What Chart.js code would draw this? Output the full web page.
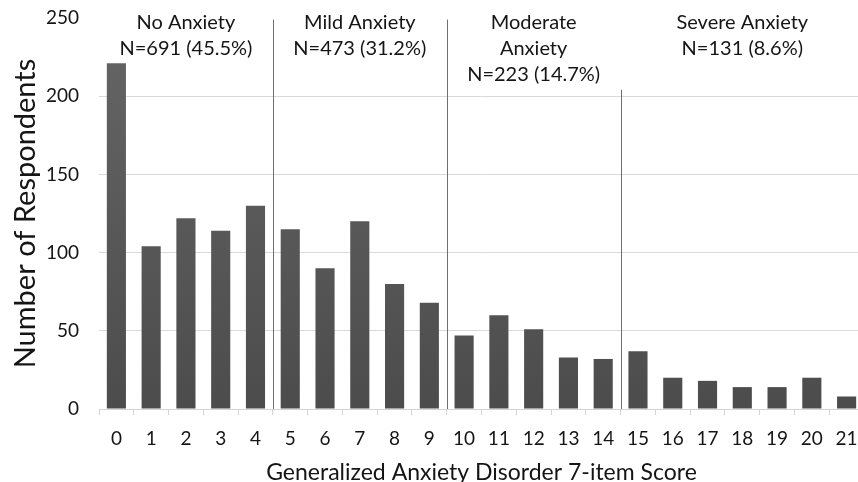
<!DOCTYPE html>
<html><head><meta charset="utf-8">
<script src="https://cdn.jsdelivr.net/npm/chart.js@4"></script>
<style>
html,body{margin:0;padding:0;overflow:hidden;background:#fff;width:858px;height:482px}
#wrap{width:880px;height:482px;position:relative}
</style></head>
<body><div id="wrap"><canvas id="c" width="880" height="482"></canvas></div>
<script>
const scores = ['0','1','2','3','4','5','6','7','8','9','10','11','12','13','14','15','16','17','18','19','20','21'];
const respondents = [221,104,122,114,130,115,90,120,80,68,47,60,51,33,32,37,20,18,14,14,20,8];
const yTicks = [0,50,100,150,200,250];
const groupLabels = [
  ['No Anxiety','N=691 (45.5%)'],
  ['Mild Anxiety','N=473 (31.2%)'],
  ['Moderate','Anxiety','N=223 (14.7%)'],
  ['Severe Anxiety','N=131 (8.6%)']
];
const groupStart = [0,5,10,15];
const groupEnd = [4,9,14,21];
const separatorAfter = [4,9,14];
const separatorTop = [249,249,204];

const FONT = 'Lato, "Open Sans", sans-serif';
const TXT = '#151515';

const groupsPlugin = {
  id:'groups',
  beforeDatasetsDraw(chart){
    const {ctx, scales:{x,y}} = chart;
    ctx.save();
    ctx.strokeStyle = '#6e6e6e';
    ctx.lineWidth = 1;
    separatorAfter.forEach((i,k)=>{
      const px = Math.round((x.getPixelForValue(i)+x.getPixelForValue(i+1))/2)+0.5;
      ctx.beginPath();
      ctx.moveTo(px, y.getPixelForValue(separatorTop[k]));
      ctx.lineTo(px, y.getPixelForValue(0));
      ctx.stroke();
    });
    ctx.restore();
  },
  afterDatasetsDraw(chart){
    const {ctx, chartArea, scales:{x}} = chart;
    ctx.save();
    ctx.fillStyle = TXT;
    ctx.font = '20px ' + FONT;
    ctx.textAlign = 'center';
    ctx.textBaseline = 'middle';
    groupLabels.forEach((lines,g)=>{
      const cx = (x.getPixelForValue(groupStart[g]) + x.getPixelForValue(groupEnd[g]))/2;
      lines.forEach((t,li)=>{
        ctx.fillText(t, cx, chartArea.top + 5 + li*26);
      });
    });
    ctx.restore();
  }
};

new Chart(document.getElementById('c'), {
  type:'bar',
  data:{
    labels:scores,
    datasets:[{
      data:respondents,
      backgroundColor(context){
        const c = context.chart; const a = c.chartArea;
        if(!a) return '#555';
        const g = c.ctx.createLinearGradient(0,a.top,0,a.bottom);
        g.addColorStop(0,'#666666');
        g.addColorStop(1,'#4c4c4c');
        return g;
      },
      borderWidth:0,
      barPercentage:0.55,
      categoryPercentage:1.0
    }]
  },
  options:{
    responsive:false,
    animation:false,
    devicePixelRatio:1,
    layout:{padding:{top:18,right:16,left:0,bottom:0}},
    plugins:{legend:{display:false},tooltip:{enabled:false}},
    scales:{
      x:{
        grid:{display:true,drawOnChartArea:false,drawTicks:true,tickLength:6,color:'#d4d4d4',offset:true},
        border:{display:true,color:'#d4d4d4'},
        ticks:{font:{family:FONT,size:19},color:TXT,padding:12,maxRotation:0,autoSkip:false},
        title:{display:true,text:'Generalized Anxiety Disorder 7-item Score',font:{family:FONT,size:23,lineHeight:0.8},color:TXT,padding:{top:0,bottom:0}},
        afterFit(s){ s.height = 73; }
      },
      y:{
        min:0,max:250,
        afterBuildTicks(s){ s.ticks = yTicks.map(v=>({value:v})); },
        grid:{drawTicks:true,tickLength:20,tickColor:'rgba(0,0,0,0)',color(c){ return c.tick && c.tick.value===250 ? 'rgba(0,0,0,0)' : '#d9d9d9'; }},
        border:{display:false},
        ticks:{font:{family:FONT,size:19},color:TXT,padding:0},
        title:{display:true,text:'Number of Respondents',font:{family:FONT,size:29},color:TXT,padding:{top:8,bottom:0}},
        afterFit(s){ s.width = 99; }
      }
    }
  },
  plugins:[groupsPlugin]
});
</script>
</body></html>
